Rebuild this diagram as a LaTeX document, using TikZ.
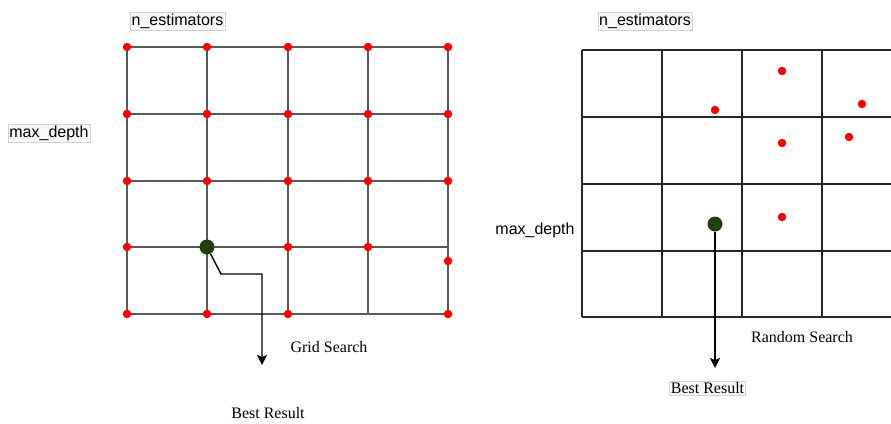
\documentclass[tikz,border=0pt]{standalone}
\usepackage{fontspec}
\setmainfont{Liberation Serif}
\newfontfamily\axisfont{Liberation Sans}
\usetikzlibrary{arrows.meta}

\definecolor{bestgreen}{HTML}{1F3F0B}
\tikzset{
  hit/.style={circle, fill=red, inner sep=0pt, minimum size=8.5pt},
  best/.style={circle, fill=bestgreen, inner sep=0pt, minimum size=15pt},
  axislabel/.style={font=\axisfont\fontsize{16}{18}\selectfont, inner sep=1.5pt},
  boxed/.style={draw=gray!35, fill=gray!6},
  caption/.style={font=\fontsize{16}{18}\selectfont, inner sep=1.5pt},
  gridline/.style={draw=black!65, line width=1.8pt},
  randline/.style={draw=black!85, line width=1.4pt},
  result/.style={line width=1.4pt, -{Stealth[length=10pt, width=10pt, inset=2pt]}},
}

\begin{document}
\begin{tikzpicture}[x=1pt, y=-1pt]
  \useasboundingbox (0,0) rectangle (891,423);

  % grid search: every combination is tried
  \node[axislabel, boxed] (gn) at (177.5,21.5) {n\_estimators};
  \node[axislabel, boxed] (gd) at (49,133) {max\_depth};

  \foreach \y in {47,114,181,247,314}
    \draw[gridline] (127,\y) -- (448,\y);
  \foreach \x in {127,207,288,368,448}
    \draw[gridline] (\x,47) -- (\x,314);

  \foreach \y [count=\j] in {47,114,181}
    \foreach \x [count=\i] in {127,207,288,368,448}
      \node[hit] (g\i\j) at (\x,\y) {};
  \node[hit] (g14) at (127,247) {};
  \node[hit] (g34) at (288,247) {};
  \node[hit] (g44) at (368,247) {};
  \node[hit] (g54) at (448,261) {};
  \node[hit] (g15) at (127,314) {};
  \node[hit] (g25) at (207,314) {};
  \node[hit] (g35) at (288,314) {};
  \node[hit] (g55) at (448,314) {};
  \node[best] (gbest) at (207,247) {};

  \coordinate (gend) at (262,365);
  \draw[result] (gbest) -- (221,274) -- (262,274) -- (gend);

  \node[caption] (gtitle) at (329,347) {Grid Search};
  \node[caption] (gres) at (268,413) {Best Result};

  % random search: a few samples scattered over the cells
  \node[axislabel, boxed] (rn) at (645,21.5) {n\_estimators};
  \node[axislabel] (rd) at (535,230) {max\_depth};

  \foreach \y in {50,117,184,251,317}
    \draw[randline] (582,\y) -- (891,\y);
  \foreach \x in {582,662,742,822}
    \draw[randline] (\x,50) -- (\x,317);

  \node[hit] (r1) at (782,71) {};
  \node[hit] (r2) at (715,110) {};
  \node[hit] (r3) at (862,104) {};
  \node[hit] (r4) at (849,137) {};
  \node[hit] (r5) at (782,143) {};
  \node[hit] (r6) at (782,217) {};
  \node[best] (rbest) at (715,224) {};

  \node[caption] (rtitle) at (802,337) {Random Search};
  \node[caption, boxed] (rres) at (707.5,388.5) {Best Result};

  \coordinate (rend) at (715,368);
  \draw[result] (rbest) -- (rend);
\end{tikzpicture}
\end{document}
